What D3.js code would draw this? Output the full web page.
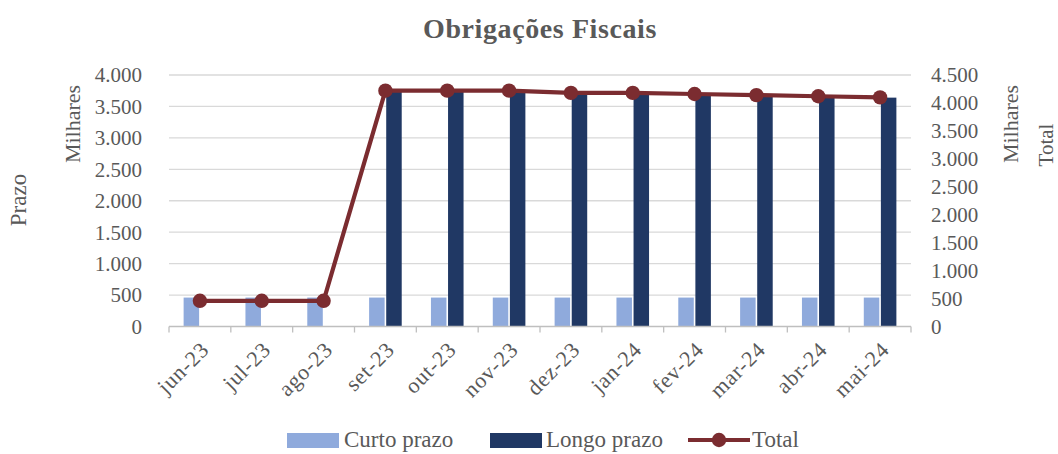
<!DOCTYPE html>
<html><head><meta charset="utf-8">
<script src="https://cdn.jsdelivr.net/npm/d3@7"></script>
<style>body{margin:0;background:#fff}svg{display:block}</style>
</head><body><svg id="c" width="1058" height="454" font-family="'Liberation Serif', 'DejaVu Serif', serif"></svg>
<script>
const categories = ["jun-23","jul-23","ago-23","set-23","out-23","nov-23","dez-23","jan-24","fev-24","mar-24","abr-24","mai-24"];
const curtoPrazo = [460,460,460,460,460,460,460,460,460,460,460,460];
const longoPrazo = [0,0,0,3760,3760,3760,3720,3720,3700,3680,3660,3640];
const total = [460,460,460,4220,4220,4220,4180,4180,4160,4140,4120,4100];
const leftTicks = [0,500,1000,1500,2000,2500,3000,3500,4000];
const rightTicks = [0,500,1000,1500,2000,2500,3000,3500,4000,4500];
const seriesNames = ["Curto prazo","Longo prazo","Total"];
const colors = {curto:"#8FAADC", longo:"#203864", total:"#7B2C30"};
const TXT = "#595959";

const svg = d3.select("#c");
const L = 169, R = 911, T = 75, B = 326.5;
const x = d3.scaleBand().domain(categories).range([L,R]);
const yL = d3.scaleLinear().domain([0,4000]).range([B,T]);
const yR = d3.scaleLinear().domain([0,4500]).range([B,T]);
const fmt = v => d3.format(",")(v).replace(/,/g,".");

svg.append("g").selectAll("line").data(leftTicks.slice(1)).join("line")
  .attr("x1",L).attr("x2",R).attr("y1",d=>yL(d)).attr("y2",d=>yL(d))
  .attr("stroke","#D9D9D9").attr("stroke-width",1.3);

const bw = 15.5;
svg.append("g").selectAll("rect").data(categories).join("rect")
  .attr("x",(d)=>x(d)+x.bandwidth()/2-bw-0.8).attr("width",bw)
  .attr("y",(d,i)=>yL(curtoPrazo[i])).attr("height",(d,i)=>B-yL(curtoPrazo[i]))
  .attr("fill",colors.curto);
svg.append("g").selectAll("rect").data(categories).join("rect")
  .attr("x",(d)=>x(d)+x.bandwidth()/2+0.8).attr("width",bw)
  .attr("y",(d,i)=>yL(longoPrazo[i])).attr("height",(d,i)=>B-yL(longoPrazo[i]))
  .attr("fill",colors.longo);

const xa = svg.append("g").attr("transform",`translate(0,${B})`);
xa.append("line").attr("x1",L).attr("x2",R).attr("stroke","#BFBFBF").attr("stroke-width",1.3);
const bounds = categories.map(d=>x(d)).concat([R]);
xa.selectAll("line.t").data(bounds).join("line").attr("class","t")
  .attr("x1",d=>d).attr("x2",d=>d).attr("y1",0).attr("y2",6).attr("stroke","#BFBFBF").attr("stroke-width",1.3);
xa.selectAll("text").data(categories).join("text")
  .attr("transform",d=>`translate(${x(d)+x.bandwidth()/2+5},${19}) rotate(-45)`)
  .attr("text-anchor","end").attr("dy","0.35em").attr("font-size",22).attr("letter-spacing",0.8)
  .attr("fill",TXT).text(d=>d);

svg.append("g").selectAll("text").data(leftTicks).join("text")
  .attr("x",142).attr("y",d=>yL(d)).attr("dy","0.35em").attr("text-anchor","end")
  .attr("font-size",21).attr("fill",TXT).text(fmt);
svg.append("g").selectAll("text").data(rightTicks).join("text")
  .attr("x",931).attr("y",d=>yR(d)).attr("dy","0.35em").attr("text-anchor","start")
  .attr("font-size",21).attr("fill",TXT).text(fmt);

const rot = (xx,yy,t,s)=>svg.append("text").attr("transform",`translate(${xx},${yy}) rotate(-90)`)
  .attr("text-anchor","middle").attr("dy","0.35em").attr("font-size",s).attr("fill",TXT).text(t);
rot(72,124,"Milhares",22);
rot(18,200,"Prazo",23);
rot(1010,124,"Milhares",22);
rot(1046,145,"Total",21);

const line = d3.line().x((d,i)=>x(categories[i])+x.bandwidth()/2).y(d=>yR(d));
svg.append("path").datum(total).attr("d",line).attr("fill","none")
  .attr("stroke",colors.total).attr("stroke-width",4.2).attr("stroke-linejoin","round");
svg.append("g").selectAll("circle").data(total).join("circle")
  .attr("cx",(d,i)=>x(categories[i])+x.bandwidth()/2).attr("cy",d=>yR(d)).attr("r",7.2)
  .attr("fill",colors.total);

svg.append("text").attr("x",540).attr("y",38).attr("text-anchor","middle")
  .attr("font-size",28).attr("letter-spacing",0.6).attr("font-weight","bold").attr("fill",TXT).text("Obrigações Fiscais");

const lg = svg.append("g");
const ly = 440;
lg.append("rect").attr("x",287).attr("y",ly-7).attr("width",52).attr("height",15).attr("fill",colors.curto);
lg.append("text").attr("x",344).attr("y",ly+7).attr("font-size",23).attr("fill",TXT).text(seriesNames[0]);
lg.append("rect").attr("x",490).attr("y",ly-7).attr("width",52).attr("height",15).attr("fill",colors.longo);
lg.append("text").attr("x",546).attr("y",ly+7).attr("font-size",23).attr("fill",TXT).text(seriesNames[1]);
lg.append("line").attr("x1",688).attr("x2",750).attr("y1",ly).attr("y2",ly).attr("stroke",colors.total).attr("stroke-width",4.2);
lg.append("circle").attr("cx",719).attr("cy",ly).attr("r",7.2).attr("fill",colors.total);
lg.append("text").attr("x",752).attr("y",ly+7).attr("font-size",23).attr("fill",TXT).text(seriesNames[2]);
</script></body></html>
